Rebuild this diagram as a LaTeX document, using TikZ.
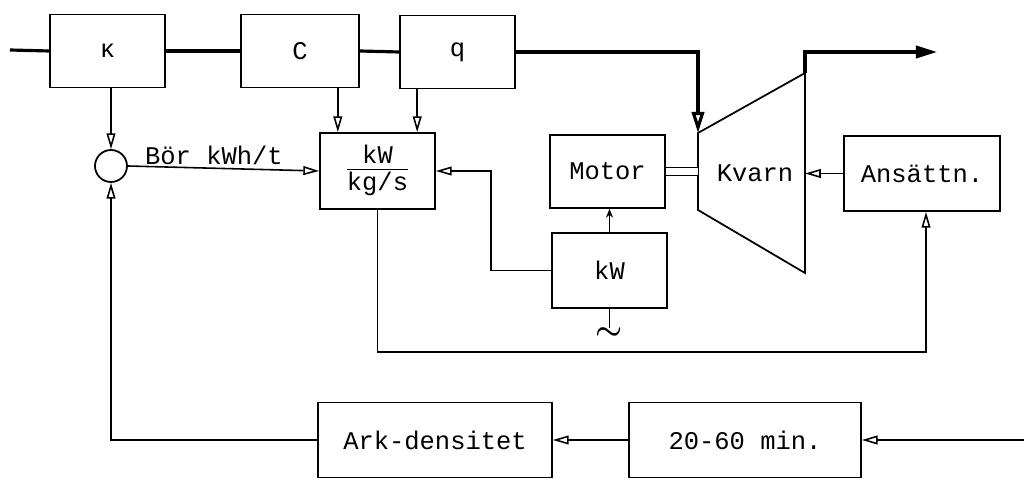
\documentclass[tikz,border=0pt]{standalone}
\usepackage{fontspec}
\setmonofont{Liberation Mono}
\usetikzlibrary{arrows.meta,calc}

\begin{document}
\begin{tikzpicture}[x=0.02cm,y=-0.02cm,>={Triangle[open,length=9pt,width=5pt]},
  blk/.style={draw,line width=1pt,minimum width=2.3cm,minimum height=1.46cm,font=\ttfamily\fontsize{14.5}{17}\selectfont},
  flow/.style={line width=1.8pt},
  sig/.style={line width=0.9pt},
  lbl/.style={font=\ttfamily\fontsize{14.5}{17}\selectfont}]
  \useasboundingbox (0,0) rectangle (1024,479);
  \node[blk] (kap) at (107.5,51) {κ};
  \node[blk,minimum width=2.36cm] (cc) at (300,51) {C};
  \node[blk] (qq) at (457.5,52) {q};
  \node[blk,minimum height=1.52cm] (ratio) at (377.5,171)
    {\begin{tabular}{@{}c@{}}kW\\[-2pt]\hline kg/s\end{tabular}};
  \node[blk] (motor) at (607.5,171.5) {Motor};
  \node[blk,minimum height=1.5cm] (kwm) at (609.5,270.5) {kW};
  \node[blk,minimum width=3.12cm,minimum height=1.5cm] (ans) at (922,173.5) {Ansättn.};
  \node[blk,minimum width=4.68cm,minimum height=1.5cm] (ark) at (435,440) {Ark-densitet};
  \node[blk,minimum width=4.64cm,minimum height=1.5cm] (dly) at (745,440) {20-60 min.};
  \node[draw,circle,line width=1pt,minimum size=0.64cm,inner sep=0pt] (sum) at (111,166) {};
  \node[lbl] (kvarn) at (755,173) {Kvarn};
  \node[font=\LARGE\boldmath,inner sep=0pt] (ac) at (609.5,334) {$\sim$};

  \coordinate (src) at (10,50);
  \coordinate (k1) at (698,133);
  \coordinate (k2) at (805,73);
  \coordinate (k3) at (805,273);
  \coordinate (k4) at (698,210);
  \coordinate (k5) at (805,52);
  \coordinate (out) at (937,52);
  \coordinate (fb) at (926,352);
  \coordinate (dens) at (1024,440);
  \coordinate (rc) at ($(ratio.north west)!0.16!(ratio.north east)$);
  \coordinate (rq) at ($(ratio.north west)!0.84!(ratio.north east)$);

  \draw[line width=1pt] (k1) -- (k2) -- (k3) -- (k4) -- cycle;
  \draw[flow] (src) -- (kap.west);
  \draw[flow] (kap.east) -- (cc.west);
  \draw[flow] (cc.east) -- (qq.west);
  \draw[flow,-{Triangle[open,length=12pt,width=7pt]}] (qq.east) -| (k1);
  \draw[flow,-{Triangle[length=12pt,width=7pt]}] (k2) -- (k5) -- (out);

  \draw[sig,->] (kap.south -| sum) -- (sum.north);
  \draw[sig,->] (cc.south -| rc) -- (rc);
  \draw[sig,->] (qq.south -| rq) -- (rq);
  \draw[sig,->] (sum.east) -- node[lbl,above,pos=0.45,yshift=-2pt] {Bör kWh/t} (ratio.west);
  \draw[sig,->] (kwm.west) -- ++(-60,0) |- (ratio.east);
  \draw[sig,-{Stealth[length=5pt,width=4pt]}] (kwm.north) -- (motor.south -| kwm.north);
  \draw[sig] (kwm.south) -- (ac.north);
  \draw[line width=0.8pt,double distance=4pt] (motor.east) -- (motor.east -| k1);
  \draw[sig,->] (ans.west) -- (ans.west -| k2);
  \draw[sig,->] (ratio.south) |- (fb) -- (fb |- ans.south);

  \draw[sig,->] (dens) -- (dly.east);
  \draw[sig,->] (dly.west) -- (ark.east);
  \draw[sig,->] (ark.west) -| (sum.south);
\end{tikzpicture}
\end{document}
